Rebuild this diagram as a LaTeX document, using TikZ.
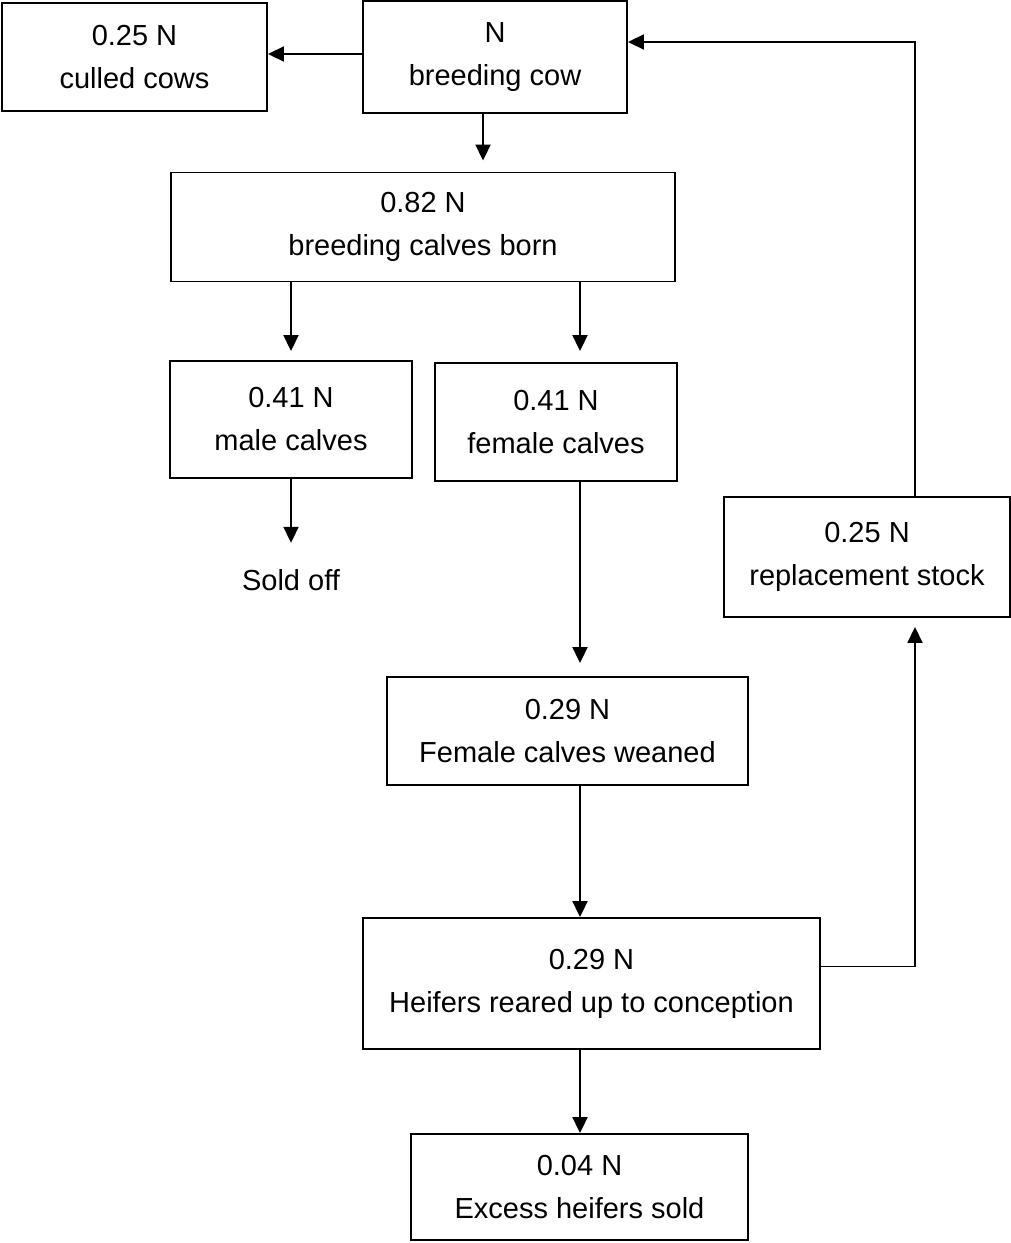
\documentclass[tikz,border=0pt]{standalone}
\usepackage{fontspec}
\setmainfont{Liberation Sans}
\usepackage{tikz}
\usetikzlibrary{
	arrows.meta,
	calc,
	positioning,
}
\tikzset{box node/.style={
	draw,
	rectangle,
	inner sep=0mm,
	line width=1.9pt,
	align=center,
	font=\fontsize{29}{43}\selectfont,
	black,
},
plain node/.style={
	font=\fontsize{29}{43}\selectfont,
},
flow line/.style={
	line width=1.9pt,
	-{Triangle[length=16pt,width=15pt]},
}}

\begin{document}
\begin{tikzpicture}[x=1pt, y=-1pt]
\useasboundingbox (0,0) rectangle (1011,1243);

\node(culled)[box node, minimum width=265pt, minimum height=108pt] at (134.5,57) {0.25 N\\culled cows};
\node(cow)[box node, minimum width=264pt, minimum height=112pt] at (495,57) {N\\breeding cow};
\node(born)[box node, minimum width=504pt, minimum height=109pt] at (423,227) {0.82 N\\breeding calves born};
\node(male)[box node, minimum width=242pt, minimum height=117pt] at (291,419.5) {0.41 N\\male calves};
\node(female)[box node, minimum width=242pt, minimum height=118pt] at (556,422) {0.41 N\\female calves};
\node(sold)[plain node] at (291,580) {Sold off};
\node(replace)[box node, minimum width=286pt, minimum height=120pt] at (867,557) {0.25 N\\replacement stock};
\node(weaned)[box node, minimum width=361pt, minimum height=108pt] at (567.5,731) {0.29 N\\Female calves weaned};
\node(heifers)[box node, minimum width=457pt, minimum height=131pt] at (591.5,983.5) {0.29 N\\Heifers reared up to conception};
\node(excess)[box node, minimum width=337pt, minimum height=106pt] at (579.5,1187) {0.04 N\\Excess heifers sold};

\coordinate(drop) at (483,0);
\coordinate(col) at (580,0);
\coordinate(ret) at (915,0);

\draw[flow line] ([yshift=3pt]cow.west) -- ([yshift=3pt]culled.east);
\draw[flow line, shorten >=11pt] (cow.south -| drop) -- (born.north -| drop);
\draw[flow line, shorten >=9pt] (born.south -| male.north) -- (male.north);
\draw[flow line, shorten >=11pt] (born.south -| col) -- (female.north -| col);
\draw[flow line, shorten >=23pt] (male.south) -- (sold.north);
\draw[flow line, shorten >=13pt] (female.south -| col) -- (weaned.north -| col);

\foreach \a/\b in {weaned/heifers, heifers/excess}
\draw[flow line] (\a.south -| col) -- (\b.north -| col);

\draw[flow line, shorten >=9pt] ([yshift=17pt]heifers.east) -| (replace.south -| ret);
\draw[flow line] (replace.north -| ret) |- ([yshift=15pt]cow.east);

\end{tikzpicture}
\end{document}
